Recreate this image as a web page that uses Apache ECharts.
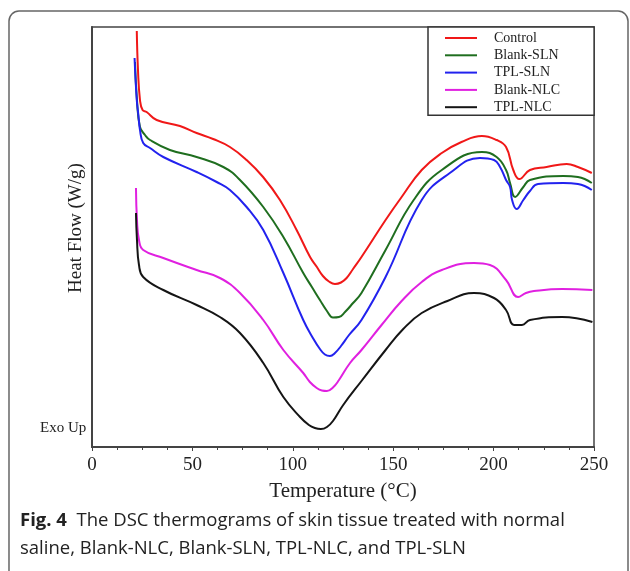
<!DOCTYPE html>
<html>
<head>
<meta charset="utf-8">
<script src="https://cdn.jsdelivr.net/npm/echarts@6/dist/echarts.min.js"></script>
<style>html,body{margin:0;padding:0;background:#fff;}#c{width:630px;height:571px;}</style>
</head>
<body>
<div id="c"></div>
<script>
// Temperature (°C), Heat flow (arbitrary units, Exo Up)
const seriesNames = ['Control', 'Blank-SLN', 'TPL-SLN', 'Blank-NLC', 'TPL-NLC'];
const xTicks = [0, 50, 100, 150, 200, 250];

const control = [[22.3,416],[22.9,377],[23.9,347],[25.2,337],[27.2,335],[32.2,327],[43.8,321],[52.1,314],[60.3,308],[68.7,300],[77.0,287],[85.2,270],[93.6,247],[101.9,217],[108.6,190],[112.0,180],[115.0,171],[118.0,165.5],[121.0,163],[124.0,164.5],[126.8,169],[130.0,178],[134.2,190],[146.2,227],[154.2,250],[164.2,277],[174.2,294],[184.0,305],[194.2,311],[201.5,307],[206.2,300],[209.8,277],[212.8,268],[218.1,277],[226.4,280],[236.4,283],[242.0,280],[248.9,274]];
const blankSLN = [[21.4,385],[22.4,347],[23.9,320],[26.4,312],[28.9,307],[38.8,297],[52.1,290],[65.4,280],[73.7,267],[85.3,240],[95.3,210],[105.2,174],[109.5,160],[113.5,147],[117.0,136],[120.0,129.5],[123.0,130],[126.0,135],[130.0,144],[134.2,154],[146.2,197],[160.2,247],[174.2,277],[194.2,295],[201.5,290],[206.2,277],[208.2,264],[210.7,250],[214.8,260],[218.1,267],[234.7,271],[242.0,270],[248.9,264]];
const tplSLN = [[21.2,389],[22.3,347],[23.1,332],[23.9,317],[25.5,304],[28.9,299],[35.5,290],[52.1,275],[62.1,265],[68.7,257],[77.0,240],[85.3,217],[95.3,174],[105.2,127],[110.0,109],[113.5,98],[116.0,92.5],[118.5,91],[121.0,94],[124.0,101],[128.0,112],[134.2,127],[146.2,170],[164.2,247],[178.2,274],[193.2,289],[200.2,287],[203.2,280],[206.2,267],[208.2,260],[209.2,247],[211.5,238],[214.8,247],[218.1,256],[222.1,263],[234.7,264],[242.0,263],[248.9,257]];
const blankNLC = [[21.9,259],[22.4,227],[23.4,207],[25.5,197],[35.5,189],[52.1,177],[63.7,169],[73.7,154],[85.3,127],[95.3,97],[105.2,74],[108.5,65],[111.9,59],[114.5,56.5],[117.0,56],[120.0,59.5],[123.0,67],[128.5,84],[134.2,97],[144.2,122],[154.2,146],[164.2,165],[174.2,177],[190.2,184],[198.2,182],[206.2,167],[212.2,150],[216.1,154],[220.1,156],[234.1,158],[249.2,157]];
const tplNLC = [[21.9,234],[22.4,207],[23.4,182],[25.5,170],[35.5,157],[52.1,142],[63.7,130],[73.7,114],[85.3,84],[95.3,50],[103.6,30],[108.0,22],[111.0,19],[114.0,18],[117.0,20],[120.0,26],[125.1,42],[134.2,66],[146.2,97],[155.0,118],[164.2,134],[177.0,146],[190.2,154],[200.2,149],[206.2,137],[210.2,122],[214.1,122],[218.1,127],[234.1,130],[249.2,125]];

const allData = [control, blankSLN, tplSLN, blankNLC, tplNLC];
const colors = ['#f01818', '#1f6e1f', '#2222ee', '#e020e0', '#151515'];

const chart = echarts.init(document.getElementById('c'), null, {renderer: 'canvas'});
const serif = 'Liberation Serif';
chart.setOption({
  animation: false,
  backgroundColor: '#fff',
  grid: {left: 92, right: 36, top: 27, bottom: 124, show: true, borderColor: '#444', borderWidth: 1.5},
  legend: {
    orient: 'vertical', left: 428, top: 27, icon: 'rect', itemWidth: 32, itemHeight: 2, itemGap: 3.3,
    padding: [4, 34, 1, 17], borderColor: '#333', borderWidth: 1.5, backgroundColor: '#fff',
    textStyle: {fontFamily: serif, fontSize: 14, color: '#222', padding: [0, 0, 0, 12]},
    data: seriesNames
  },
  xAxis: {
    type: 'value', min: 0, max: 250, interval: 50,
    axisLine: {show: true, lineStyle: {color: '#444', width: 2}},
    axisTick: {show: true, length: 4, lineStyle: {color: '#444'}},
    minorTick: {show: true, splitNumber: 4, length: 3, lineStyle: {color: '#444'}},
    splitLine: {show: false},
    axisLabel: {fontFamily: serif, fontSize: 19, color: '#222', margin: 9, formatter: v => xTicks.includes(v) ? String(v) : ''},
    name: 'Temperature (°C)', nameLocation: 'middle', nameGap: 34,
    nameTextStyle: {fontFamily: serif, fontSize: 21, color: '#222'}
  },
  yAxis: {
    type: 'value', min: 0, max: 420,
    axisLine: {show: true, lineStyle: {color: '#444', width: 2}},
    axisTick: {show: false}, axisLabel: {show: false}, splitLine: {show: false},
    name: 'Heat Flow (W/g)', nameLocation: 'middle', nameGap: 6,
    nameTextStyle: {fontFamily: serif, fontSize: 19, color: '#222', padding: [0, 0, 0, 18]}
  },
  series: allData.map((d, i) => ({
    name: seriesNames[i], type: 'line', data: d, showSymbol: false, symbol: 'none',
    smooth: 0.45, color: colors[i],
    lineStyle: {width: 2, color: colors[i]}
  })),
  graphic: [
    {type: 'rect', z: -1, silent: true, shape: {x: 9, y: 11, width: 619, height: 620, r: 10},
     style: {fill: null, stroke: '#666', lineWidth: 1.5}},
    {type: 'text', left: 40, top: 421, style: {text: 'Exo Up', font: '15px "Liberation Serif"', fill: '#222'}},
    {type: 'text', left: 20, top: 507, style: {
      text: '{b|Fig. 4}  The DSC thermograms of skin tissue treated with normal\nsaline, Blank-NLC, Blank-SLN, TPL-NLC, and TPL-SLN',
      fontFamily: 'Open Sans', fontSize: 18.5, fill: '#222', lineHeight: 28,
      rich: {b: {fontWeight: 'bold', fontFamily: 'Open Sans', fontSize: 18.5, fill: '#222', lineHeight: 28}}
    }}
  ]
});
</script>
</body>
</html>
